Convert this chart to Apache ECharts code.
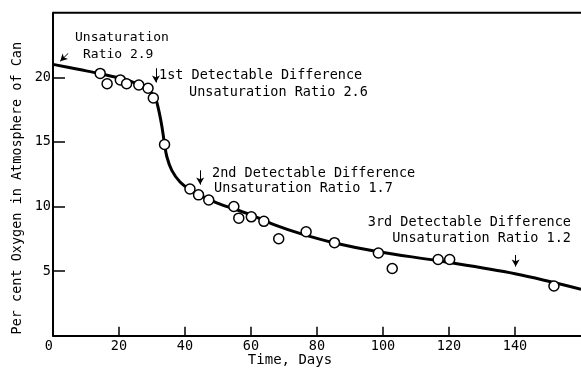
<!DOCTYPE html>
<html>
<head>
<meta charset="utf-8">
<script src="https://cdn.jsdelivr.net/npm/echarts@6/dist/echarts.min.js"></script>
<style>
  html, body { margin: 0; padding: 0; background: #fff; }
  #chart { width: 581px; height: 375px; }
</style>
</head>
<body>
<div id="chart"></div>
<script>
// observed points (open circles)
const obsDays = [14.3, 16.4, 20.4, 22.3, 26.0, 28.8, 30.4, 33.8, 41.5, 44.1, 47.2, 54.8, 56.3, 60.1, 63.9, 68.4, 76.7, 85.3, 98.6, 102.8, 116.7, 120.2, 151.8]
const obsOxygen = [20.3, 19.5, 19.8, 19.5, 19.4, 19.15, 18.4, 14.8, 11.35, 10.9, 10.5, 10.0, 9.1, 9.2, 8.85, 7.5, 8.05, 7.2, 6.4, 5.2, 5.9, 5.9, 3.85]

// fitted curve
const fitDays = [0, 8, 14, 20, 24, 26.4, 29.4, 31, 32, 33, 33.7, 34.5, 36, 38.5, 41.6, 45.6, 50, 55, 60, 68, 75, 85, 98.6, 116.7, 140, 160]
const fitOxygen = [21.0, 20.6, 20.3, 19.95, 19.65, 19.35, 18.9, 18.4, 17.5, 16.2, 15.0, 13.85, 12.8, 11.9, 11.3, 10.75, 10.25, 9.8, 9.35, 8.5, 7.9, 7.2, 6.5, 5.8, 4.8, 3.6]

const xTicks = [0, 20, 40, 60, 80, 100, 120, 140]
const yTicks = [5, 10, 15, 20]

const font = '"DejaVu Sans Mono", monospace'

const chart = echarts.init(document.getElementById('chart'))

const arrow = (x, y1, y2) => [{ coord: [x[0], y1] }, { coord: [x[1], y2] }]

const option = {
  animation: false,
  backgroundColor: '#fff',
  grid: { left: 53, right: 0, top: 12.7, bottom: 39.3, outerBoundsMode: 'none' },
  xAxis: {
    type: 'value',
    min: 0,
    max: 160,
    interval: 20,
    name: 'Time, Days',
    nameLocation: 'middle',
    nameGap: 18,
    nameMoveOverlap: false,
    nameTextStyle: { fontFamily: font, fontSize: 14, color: '#000', padding: [0, 54, 0, 0] },
    axisLine: { lineStyle: { color: '#000', width: 2 } },
    axisTick: { inside: true, length: 9, customValues: xTicks, lineStyle: { color: '#000', width: 1.5 } },
    axisLabel: {
      margin: 4,
      fontFamily: font,
      fontSize: 13.5,
      color: '#000',
      alignMinLabel: 'right',
      customValues: xTicks
    },
    splitLine: { show: false }
  },
  yAxis: {
    type: 'value',
    min: 0,
    max: 25,
    interval: 5,
    name: 'Per cent Oxygen in Atmosphere of Can',
    nameLocation: 'middle',
    nameRotate: 90,
    nameGap: 29,
    nameMoveOverlap: false,
    nameTextStyle: { fontFamily: font, fontSize: 13.5, color: '#000', padding: [0, 28, 0, 0] },
    axisLine: { show: true, lineStyle: { color: '#000', width: 2 } },
    axisTick: { inside: true, length: 12, customValues: yTicks, lineStyle: { color: '#000', width: 1.5 } },
    axisLabel: {
      margin: 2,
      fontFamily: font,
      fontSize: 13.5,
      color: '#000',
      customValues: yTicks
    },
    splitLine: { show: false }
  },
  series: [
    {
      type: 'line',
      data: fitDays.map((d, i) => [d, fitOxygen[i]]),
      smooth: 0.35,
      showSymbol: false,
      lineStyle: { color: '#000', width: 3 },
      silent: true,
      markLine: {
        silent: true,
        symbol: ['none', 'arrow'],
        symbolSize: [6, 7],
        lineStyle: { color: '#000', width: 1, type: 'solid' },
        label: { show: false },
        data: [
          arrow([4.6, 2.2], 21.85, 21.25),
          arrow([31.2, 31.2], 20.7, 19.6),
          arrow([44.6, 44.6], 12.8, 11.7),
          arrow([140.2, 140.2], 6.25, 5.35)
        ]
      }
    },
    {
      type: 'scatter',
      data: obsDays.map((d, i) => [d, obsOxygen[i]]),
      symbol: 'circle',
      symbolSize: 10,
      itemStyle: { color: '#fff', borderColor: '#000', borderWidth: 1.5, opacity: 1 },
      z: 3
    }
  ],
  graphic: [
    // top frame line
    { type: 'line', shape: { x1: 53, y1: 12.7, x2: 581, y2: 12.7 }, style: { stroke: '#000', lineWidth: 2 } },
    { type: 'text', x: 75, y: 38, style: { text: 'Unsaturation', font: '13px ' + font, fill: '#000', verticalAlign: 'middle' } },
    { type: 'text', x: 83, y: 55, style: { text: 'Ratio 2.9', font: '13px ' + font, fill: '#000', verticalAlign: 'middle' } },
    { type: 'text', x: 159, y: 75, style: { text: '1st Detectable Difference', font: '13.5px ' + font, fill: '#000', verticalAlign: 'middle' } },
    { type: 'text', x: 189, y: 92, style: { text: 'Unsaturation Ratio 2.6', font: '13.5px ' + font, fill: '#000', verticalAlign: 'middle' } },
    { type: 'text', x: 212, y: 173, style: { text: '2nd Detectable Difference', font: '13.5px ' + font, fill: '#000', verticalAlign: 'middle' } },
    { type: 'text', x: 214, y: 188, style: { text: 'Unsaturation Ratio 1.7', font: '13.5px ' + font, fill: '#000', verticalAlign: 'middle' } },
    { type: 'text', x: 571, y: 222, style: { text: '3rd Detectable Difference', font: '13.5px ' + font, fill: '#000', align: 'right', verticalAlign: 'middle' } },
    { type: 'text', x: 571, y: 238, style: { text: 'Unsaturation Ratio 1.2', font: '13.5px ' + font, fill: '#000', align: 'right', verticalAlign: 'middle' } }
  ]
}

chart.setOption(option)
</script>
</body>
</html>
